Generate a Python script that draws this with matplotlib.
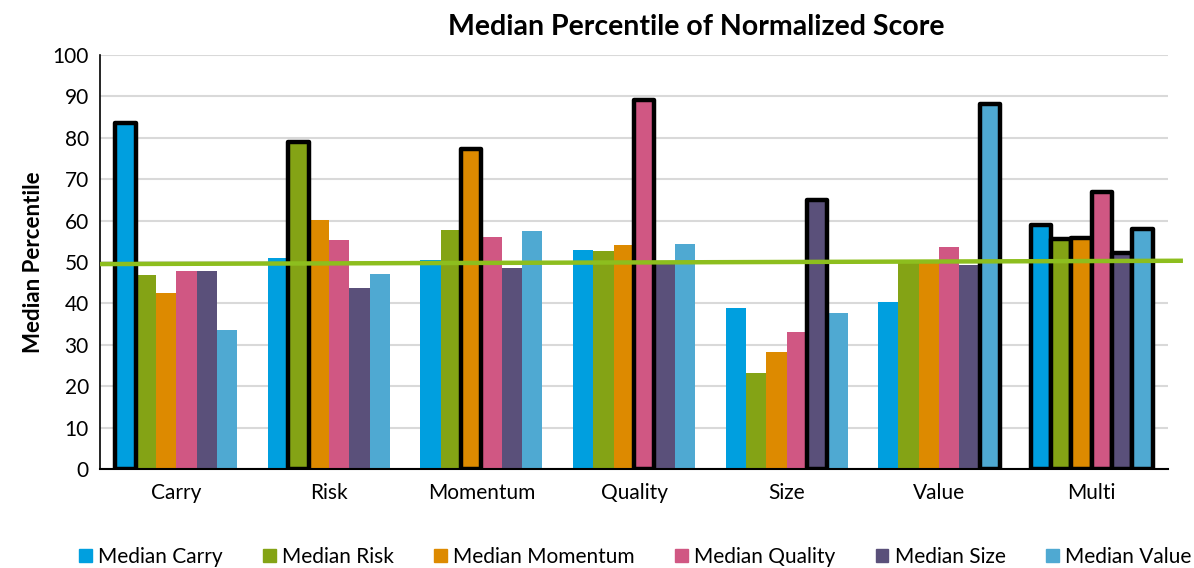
import numpy as np
import matplotlib
matplotlib.use("Agg")
import matplotlib.pyplot as plt
import matplotlib.patches as mpatches

plt.rcParams['font.family'] = ['Lato', 'DejaVu Sans']

categories = ["Carry", "Risk", "Momentum", "Quality", "Size", "Value", "Multi"]
series_names = ["Median Carry", "Median Risk", "Median Momentum",
                "Median Quality", "Median Size", "Median Value"]

# one list per series, values in category order
median_carry = [83.5, 51.0, 50.4, 52.8, 38.8, 40.4, 59.0]
median_risk = [46.8, 79.0, 57.7, 52.6, 23.2, 50.5, 55.5]
median_momentum = [42.4, 60.1, 77.4, 54.2, 28.3, 50.5, 55.8]
median_quality = [47.9, 55.2, 56.1, 89.1, 33.2, 53.6, 66.8]
median_size = [47.8, 43.6, 48.6, 49.5, 65.0, 49.2, 52.1]
median_value = [33.5, 47.0, 57.5, 54.3, 37.8, 88.1, 58.0]

# green reference line (left end, right end)
ref_line = [49.5, 50.3]

series = [median_carry, median_risk, median_momentum,
          median_quality, median_size, median_value]
colors = ["#009FDF", "#84A315", "#DD8A00", "#D05783", "#5A507A", "#4FA9D2"]

fig = plt.figure(figsize=(11.94, 5.68), dpi=100)
ax = fig.add_axes([100 / 1194, 1 - 469 / 568, 1068 / 1194, 414 / 568])

x = np.arange(len(categories))
w = 0.8 / 6
for i, vals in enumerate(series):
    pos = x - 0.4 + w * (i + 0.5)
    bars = ax.bar(pos, vals, width=w, color=colors[i], zorder=2)
    for j, b in enumerate(bars):
        # highlight own factor, and every bar of the Multi group
        if j == i or categories[j] == "Multi":
            b.set_edgecolor("black")
            b.set_linewidth(3.2)
            b.set_joinstyle("round")
            b.set_zorder(3)

# x in axes fraction, y in data units
ax.plot([0, 1.014], ref_line, color="#8DBE1E", linewidth=3.2,
        transform=ax.get_yaxis_transform(),
        clip_on=False, zorder=4, solid_capstyle="butt")

ax.set_xlim(-0.5, len(categories) - 0.5)
ax.set_ylim(0, 100)
ax.set_yticks(np.arange(0, 101, 10))
ax.set_xticks(x)
ax.set_xticklabels(categories, fontsize=15)
ax.tick_params(axis="y", labelsize=15, length=0, pad=8)
ax.tick_params(axis="x", length=0, pad=10)
ax.yaxis.grid(True, color="#D9D9D9", linewidth=1.5, zorder=0)
ax.set_axisbelow(True)
for s in ["top", "right"]:
    ax.spines[s].set_visible(False)
ax.spines["left"].set_linewidth(1.2)
ax.spines["bottom"].set_linewidth(1.5)
ax.set_ylabel("Median Percentile", fontsize=16, fontweight="bold", labelpad=6)

fig.text(696 / 1194, 1 - 27 / 568, "Median Percentile of Normalized Score",
         ha="center", va="center", fontsize=20.5, fontweight="bold")

handles = [mpatches.Patch(color=c, label=n) for c, n in zip(colors, series_names)]
fig.legend(handles=handles, loc="center", bbox_to_anchor=(0.532, 1 - 557 / 568),
           ncol=6, frameon=False, fontsize=15, handlelength=0.6, handleheight=0.6,
           handletextpad=0.3, columnspacing=1.95)

fig.savefig("out.png", dpi=100)
